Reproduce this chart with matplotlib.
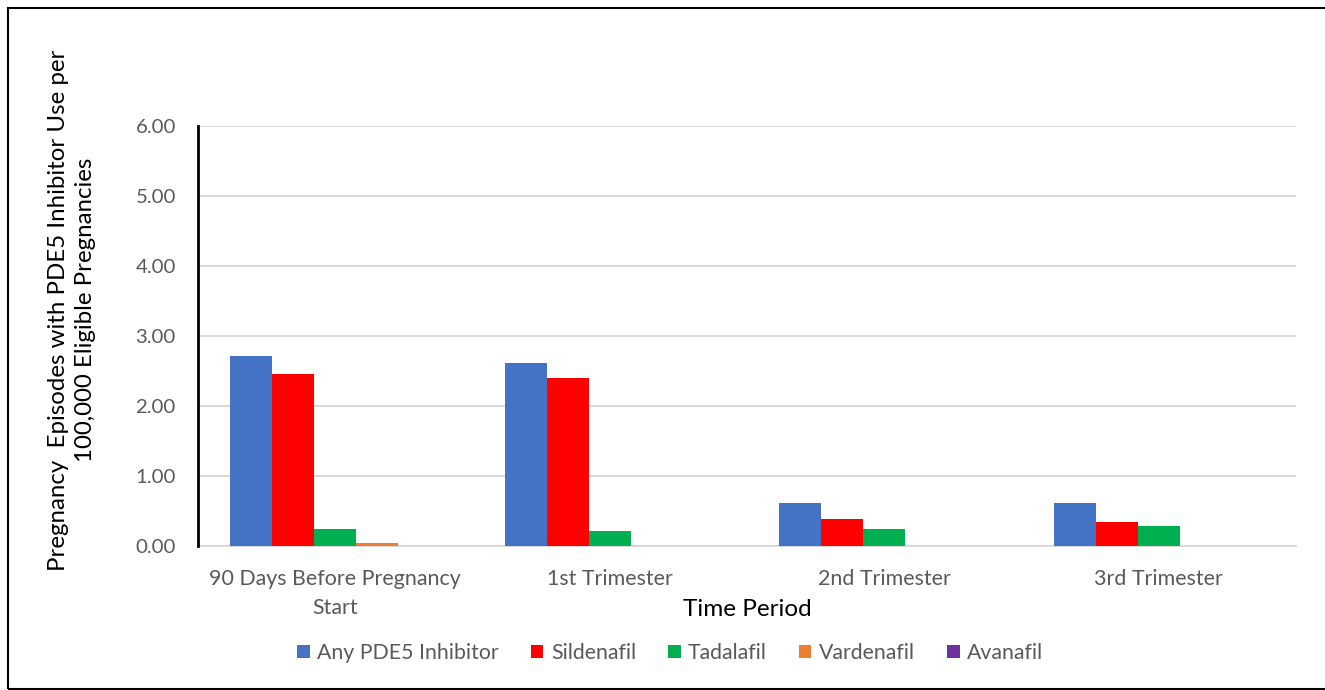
import numpy as np
import matplotlib.pyplot as plt
from matplotlib.patches import Rectangle

# data
periods = ['90 Days Before Pregnancy\nStart', '1st Trimester', '2nd Trimester', '3rd Trimester']
series_names = ['Any PDE5 Inhibitor', 'Sildenafil', 'Tadalafil', 'Vardenafil', 'Avanafil']
any_pde5 = [2.71, 2.61, 0.62, 0.62]
sildenafil = [2.46, 2.40, 0.39, 0.35]
tadalafil = [0.24, 0.21, 0.24, 0.29]
vardenafil = [0.04, 0.0, 0.0, 0.0]
avanafil = [0.0, 0.0, 0.0, 0.0]
colors = ['#4472C4', '#FF0000', '#00B050', '#ED7D31', '#7030A0']
yticks = [0, 1, 2, 3, 4, 5, 6]

plt.rcParams['font.family'] = ['Lato', 'DejaVu Sans']
grey = '#595959'

fig = plt.figure(figsize=(13.25, 6.9), dpi=100)
ax = fig.add_axes([198 / 1325, 1 - 546 / 690, (1296 - 198) / 1325, 420 / 690])

x = np.arange(len(periods))
width = 0.153
all_series = [any_pde5, sildenafil, tadalafil, vardenafil, avanafil]
for i, (vals, name) in enumerate(zip(all_series, series_names)):
    ax.bar(x + (i - 2) * width, vals, width, color=colors[i], label=name, zorder=3)

ax.set_xlim(-0.5, len(periods) - 0.5)
ax.set_ylim(0, 6)
ax.set_yticks(yticks)
ax.set_yticklabels([f'{v:.2f}' for v in yticks])
ax.set_xticks(x)
ax.set_xticklabels(periods, linespacing=1.55)
ax.tick_params(axis='both', length=0, labelcolor=grey)
ax.tick_params(axis='y', pad=16, labelsize=14.7)
ax.tick_params(axis='x', pad=16.5, labelsize=15.4)

ax.grid(axis='y', color='#D9D9D9', linewidth=1.5, zorder=0)
for s in ['top', 'right']:
    ax.spines[s].set_visible(False)
ax.spines['bottom'].set_color('#D9D9D9')
ax.spines['bottom'].set_linewidth(1.5)
ax.spines['left'].set_color('black')
ax.spines['left'].set_linewidth(2)
ax.spines['left'].set_zorder(4)

fig.text(747 / 1325, 1 - 610 / 690, 'Time Period', ha='center', va='center',
         fontsize=17.5, color='black')
fig.text(72 / 1325, 1 - 310 / 690,
         'Pregnancy  Episodes with PDE5 Inhibitor Use per\n100,000 Eligible Pregnancies',
         rotation=90, ha='center', va='center', fontsize=17.3, color='black',
         multialignment='center', linespacing=1.4)

ax.legend(loc='center', bbox_to_anchor=(670 / 1325, 1 - 653 / 690), bbox_transform=fig.transFigure,
          ncol=5, frameon=False, fontsize=15.3, labelcolor=grey, handlelength=0.6, handleheight=0.6,
          handletextpad=0.35, columnspacing=1.5)

# outer chart border
fig.patches.append(Rectangle((8 / 1325, 1 / 690), 1.2, 1 - 9 / 690, transform=fig.transFigure,
                             fill=False, edgecolor='black', linewidth=1.5))

fig.savefig('out.png', dpi=100)
